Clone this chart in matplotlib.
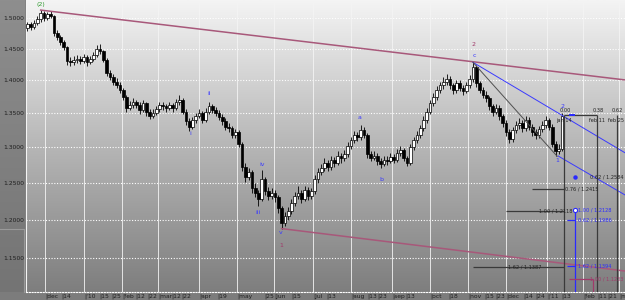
import numpy as np
import matplotlib
matplotlib.use("Agg")
import matplotlib.pyplot as plt
from matplotlib.colors import LinearSegmentedColormap
from matplotlib.ticker import NullLocator

# two-day candles, x = bar number
opens = [1.484, 1.490, 1.485, 1.492, 1.498, 1.508, 1.500, 1.506, 1.503, 1.475,
         1.468, 1.460, 1.452, 1.430, 1.428, 1.432, 1.434, 1.430, 1.436, 1.428,
         1.434, 1.440, 1.450, 1.446, 1.432, 1.412, 1.405, 1.398, 1.392, 1.385,
         1.375, 1.358, 1.362, 1.366, 1.362, 1.355, 1.365, 1.352, 1.346, 1.350,
         1.356, 1.362, 1.360, 1.358, 1.362, 1.358, 1.366, 1.370, 1.352, 1.338,
         1.330, 1.340, 1.345, 1.350, 1.340, 1.352, 1.360, 1.355, 1.350, 1.344,
         1.338, 1.330, 1.328, 1.318, 1.322, 1.305, 1.272, 1.258, 1.265, 1.242,
         1.236, 1.228, 1.255, 1.238, 1.232, 1.236, 1.230, 1.215, 1.196, 1.205,
         1.212, 1.222, 1.232, 1.236, 1.228, 1.240, 1.232, 1.238, 1.255, 1.265,
         1.270, 1.278, 1.272, 1.282, 1.278, 1.288, 1.284, 1.290, 1.302, 1.310,
         1.318, 1.315, 1.325, 1.318, 1.290, 1.285, 1.288, 1.280, 1.276, 1.282,
         1.280, 1.286, 1.282, 1.292, 1.296, 1.284, 1.278, 1.300, 1.310, 1.318,
         1.328, 1.340, 1.352, 1.365, 1.375, 1.385, 1.392, 1.398, 1.402, 1.392,
         1.385, 1.396, 1.388, 1.384, 1.392, 1.402, 1.420, 1.395, 1.385, 1.378,
         1.372, 1.360, 1.352, 1.358, 1.345, 1.335, 1.322, 1.312, 1.325, 1.332,
         1.335, 1.328, 1.340, 1.330, 1.322, 1.318, 1.326, 1.332, 1.340, 1.330,
         1.305, 1.295, 1.298]
highs = [1.494, 1.493, 1.497, 1.503, 1.513, 1.511, 1.510, 1.511, 1.505, 1.480,
         1.472, 1.463, 1.454, 1.436, 1.438, 1.440, 1.438, 1.441, 1.440, 1.438,
         1.445, 1.456, 1.457, 1.448, 1.435, 1.416, 1.410, 1.404, 1.398, 1.388,
         1.378, 1.368, 1.372, 1.369, 1.366, 1.370, 1.367, 1.356, 1.356, 1.361,
         1.367, 1.366, 1.364, 1.367, 1.365, 1.371, 1.377, 1.373, 1.356, 1.342,
         1.344, 1.350, 1.356, 1.353, 1.357, 1.367, 1.364, 1.359, 1.354, 1.348,
         1.342, 1.336, 1.331, 1.327, 1.325, 1.308, 1.278, 1.270, 1.268, 1.250,
         1.240, 1.268, 1.258, 1.244, 1.242, 1.240, 1.233, 1.218, 1.210, 1.217,
         1.227, 1.237, 1.245, 1.240, 1.246, 1.244, 1.243, 1.260, 1.270, 1.276,
         1.284, 1.282, 1.288, 1.286, 1.294, 1.292, 1.296, 1.307, 1.315, 1.323,
         1.322, 1.333, 1.330, 1.321, 1.295, 1.294, 1.292, 1.284, 1.288, 1.287,
         1.291, 1.290, 1.298, 1.302, 1.299, 1.288, 1.305, 1.315, 1.323, 1.333,
         1.346, 1.358, 1.370, 1.381, 1.391, 1.398, 1.405, 1.410, 1.407, 1.396,
         1.401, 1.400, 1.393, 1.397, 1.408, 1.428, 1.424, 1.399, 1.390, 1.383,
         1.376, 1.364, 1.364, 1.362, 1.349, 1.339, 1.326, 1.330, 1.338, 1.342,
         1.339, 1.346, 1.344, 1.334, 1.326, 1.331, 1.338, 1.346, 1.343, 1.334,
         1.309, 1.304, 1.350]
lows = [1.478, 1.480, 1.482, 1.488, 1.494, 1.495, 1.497, 1.499, 1.470, 1.464,
        1.456, 1.447, 1.424, 1.422, 1.424, 1.427, 1.425, 1.427, 1.423, 1.425,
        1.430, 1.436, 1.441, 1.428, 1.406, 1.400, 1.393, 1.388, 1.381, 1.370,
        1.352, 1.355, 1.357, 1.357, 1.349, 1.352, 1.346, 1.341, 1.343, 1.347,
        1.352, 1.354, 1.352, 1.355, 1.352, 1.355, 1.362, 1.348, 1.333, 1.323,
        1.327, 1.336, 1.342, 1.336, 1.337, 1.349, 1.350, 1.345, 1.339, 1.333,
        1.325, 1.322, 1.313, 1.313, 1.300, 1.266, 1.251, 1.254, 1.236, 1.230,
        1.218, 1.225, 1.233, 1.226, 1.228, 1.224, 1.209, 1.188, 1.192, 1.200,
        1.208, 1.218, 1.228, 1.222, 1.225, 1.226, 1.228, 1.234, 1.250, 1.260,
        1.266, 1.266, 1.268, 1.272, 1.274, 1.278, 1.280, 1.286, 1.298, 1.306,
        1.309, 1.311, 1.313, 1.285, 1.280, 1.281, 1.275, 1.270, 1.273, 1.275,
        1.277, 1.277, 1.279, 1.288, 1.280, 1.273, 1.275, 1.296, 1.306, 1.314,
        1.324, 1.336, 1.348, 1.360, 1.370, 1.380, 1.387, 1.393, 1.386, 1.379,
        1.381, 1.383, 1.378, 1.380, 1.388, 1.398, 1.390, 1.380, 1.372, 1.366,
        1.354, 1.346, 1.348, 1.339, 1.329, 1.316, 1.306, 1.308, 1.320, 1.327,
        1.322, 1.324, 1.325, 1.316, 1.312, 1.314, 1.322, 1.328, 1.325, 1.300,
        1.287, 1.290, 1.295]
closes = [1.490, 1.485, 1.492, 1.498, 1.508, 1.500, 1.506, 1.503, 1.475, 1.468,
          1.460, 1.452, 1.430, 1.428, 1.432, 1.434, 1.430, 1.436, 1.428, 1.434,
          1.440, 1.450, 1.446, 1.432, 1.412, 1.405, 1.398, 1.392, 1.385, 1.375,
          1.358, 1.362, 1.366, 1.362, 1.355, 1.365, 1.352, 1.346, 1.350, 1.356,
          1.362, 1.360, 1.358, 1.362, 1.358, 1.366, 1.370, 1.352, 1.338, 1.330,
          1.340, 1.345, 1.350, 1.340, 1.352, 1.360, 1.355, 1.350, 1.344, 1.338,
          1.330, 1.328, 1.318, 1.322, 1.305, 1.272, 1.258, 1.265, 1.242, 1.236,
          1.228, 1.255, 1.238, 1.232, 1.236, 1.230, 1.215, 1.196, 1.205, 1.212,
          1.222, 1.232, 1.236, 1.228, 1.240, 1.232, 1.238, 1.255, 1.265, 1.270,
          1.278, 1.272, 1.282, 1.278, 1.288, 1.284, 1.290, 1.302, 1.310, 1.318,
          1.315, 1.325, 1.318, 1.290, 1.285, 1.288, 1.280, 1.276, 1.282, 1.280,
          1.286, 1.282, 1.292, 1.296, 1.284, 1.278, 1.300, 1.310, 1.318, 1.328,
          1.340, 1.352, 1.365, 1.375, 1.385, 1.392, 1.398, 1.402, 1.392, 1.385,
          1.396, 1.388, 1.384, 1.392, 1.402, 1.420, 1.395, 1.385, 1.378, 1.372,
          1.360, 1.352, 1.358, 1.345, 1.335, 1.322, 1.312, 1.325, 1.332, 1.335,
          1.328, 1.340, 1.330, 1.322, 1.318, 1.326, 1.332, 1.340, 1.330, 1.305,
          1.295, 1.298, 1.345]

yticks = [1.15, 1.20, 1.25, 1.30, 1.35, 1.40, 1.45, 1.50]
xtick_pos = [5.3, 10.15, 17.1, 21.7, 25.3, 28.6, 32.6, 36.2, 39.5, 43.5, 46.5,
             52.0, 57.4, 63.5, 71.7, 74.7, 79.8, 86.5, 90.5, 98.0, 102.9, 105.9,
             110.5, 114.4, 122.0, 127.4, 133.5, 138.3, 141.7, 145.0, 150.2, 153.8,
             157.4, 161.7, 168.3, 172.6, 175.6, 179.2]
xtick_lab = ["dec", "14", "'10", "15", "25", "feb", "12", "22", "mar", "12", "22",
             "apr", "19", "may", "25", "jun", "15", "jul", "13", "aug", "13", "23",
             "sep", "13", "oct", "18", "nov", "15", "23", "dec", "14", "24",
             "'11", "13", "feb", "11", "21", "m"]
month_pos = [5.3, 17.1, 28.6, 39.5, 52.0, 63.5, 74.7, 86.5, 98.0, 110.5, 122.0,
             133.5, 145.0, 157.4, 168.3, 179.2]

# wave labels: (text, bar, price, colour)
BLUE = "#3a3aff"
MAROON = "#a03a6a"
waves = [("(2)", 4.1, 1.5216, "#2e9a2e"), ("i", 49.2, 1.3192, BLUE),
         ("ii", 55.0, 1.3789, BLUE), ("iii", 69.8, 1.2100, BLUE),
         ("iv", 71.1, 1.2747, BLUE), ("v", 76.8, 1.1835, BLUE),
         ("1", 76.8, 1.1666, MAROON), ("a", 100.5, 1.3428, BLUE),
         ("b", 107.1, 1.2537, BLUE), ("2", 135.3, 1.4558, MAROON),
         ("c", 135.3, 1.4382, BLUE), ("1", 160.5, 1.2817, BLUE),
         ("2", 162.0, 1.3600, BLUE)]

# trend lines: (bar0, price0, bar1, price1, colour, width)
lines = [(4.0, 1.513, 181.06, 1.4005, "#a8587a", 1.1),
         (77.0, 1.188, 181.06, 1.1335, "#a8587a", 1.1),
         (135.0, 1.428, 181.06, 1.292, BLUE, 0.7),
         (160.8, 1.2874, 181.06, 1.2331, BLUE, 0.7),
         (135.0, 1.428, 160.5, 1.287, "#505050", 0.7)]

fig = plt.figure(figsize=(6.25, 3.0), dpi=100)
fig.patch.set_facecolor("#7c7c7c")

# background panels
bg = fig.add_axes([0, 0, 1, 1])
bg.set_xlim(0, 625)
bg.set_ylim(300, 0)
bg.axis("off")
grad = np.linspace(0, 1, 256).reshape(-1, 1)
plot_cmap = LinearSegmentedColormap.from_list("p", ["#f4f4f4", "#b6b6b6", "#7e7e7e"])
left_cmap = LinearSegmentedColormap.from_list("l", ["#8e8e8e", "#747474"])
bg.imshow(grad, cmap=plot_cmap, extent=[26, 625, 292, 0], aspect="auto")
bg.imshow(grad, cmap=left_cmap, extent=[0, 25, 292, 0], aspect="auto")
bg.plot([0, 24], [229, 229], color="#9a9a9a", lw=0.8)
bg.plot([24, 24], [229, 292], color="#9a9a9a", lw=0.8)

ax = fig.add_axes([26 / 625, 8 / 300, 599 / 625, 292 / 300])
ax.set_facecolor("none")
ax.set_yscale("log")
ax.set_ylim(1.1075, 1.530)
ax.set_xlim(-0.45, 181.06)

for y in yticks:
    ax.axhline(y, color="white", lw=0.8, ls=(0, (1, 1.5)), zorder=1)
for m in month_pos:
    ax.axvline(m, color="#f4f4f4", lw=0.6, zorder=1)

# candles
x = np.arange(len(closes))
o = np.array(opens)
c = np.array(closes)
up = c >= o
ax.vlines(x, lows, highs, color="black", lw=0.6, zorder=3)
ax.bar(x[up], (c - o)[up], bottom=o[up], width=0.8, color="white",
       edgecolor="black", lw=0.5, zorder=4)
ax.bar(x[~up], (c - o)[~up], bottom=o[~up], width=0.8, color="black",
       edgecolor="black", lw=0.5, zorder=4)

for b0, p0, b1, p1, col, w in lines:
    ax.plot([b0, b1], [p0, p1], color=col, lw=w, zorder=5)

# fibonacci projection block on the right
ax.vlines([162.6, 172.6, 178.6], 1.1075, 1.347, color="#3a3a3a", lw=0.9, zorder=5)
ax.hlines(1.347, 162.6, 172.6, color="#3a3a3a", lw=0.9, zorder=5)
ax.hlines(1.347, 164.2, 166.0, color="#2a2aff", lw=1.4, zorder=6)
ax.vlines(165.9, 1.1075, 1.2128, color="#2a2aff", lw=0.9, zorder=5)
ax.hlines([1.2415, 1.2118, 1.1387], [153.0, 145.0, 135.0], [162.6, 162.6, 162.6],
          color="#3a3a3a", lw=0.9, zorder=5)
ax.hlines([1.1988, 1.1394], 163.5, 166.0, color="#2a2aff", lw=0.9, zorder=5)
ax.hlines(1.1233, 164.0, 171.5, color="#a03a6a", lw=0.9, zorder=5)
ax.vlines(171.5, 1.1075, 1.1233, color="#a03a6a", lw=0.9, zorder=5)
ax.plot(165.9, 1.2128, "o", ms=3, mfc="white", mec="#2a2aff", mew=0.8, zorder=6)
ax.plot(166.0, 1.2584, "o", ms=2.2, color="#2a2aff", zorder=6)

FS = 3.6
fib_dark = [("0.62 / 1.2584", 170.6, 1.2584), ("0.76 / 1.2415", 162.9, 1.2415),
            ("1.00 / 1.2118", 155.0, 1.2118), ("1.62 / 1.1387", 145.5, 1.1387)]
fib_blue = [("1.00 / 1.2128", 166.8, 1.2128), ("0.62 / 1.1986", 166.8, 1.1988),
            ("1.62 / 1.1394", 166.8, 1.1394)]
for t, b, p in fib_dark:
    ax.text(b, p, t, fontsize=FS, color="#222222", va="center", ha="left", zorder=7)
for t, b, p in fib_blue:
    ax.text(b, p, t, fontsize=FS, color="#2a2aff", va="center", ha="left", zorder=7)
ax.text(170.6, 1.1233, "1.00 / 1.1233", fontsize=FS, color="#a03a6a", va="center",
        ha="left", zorder=7)
for t, b in [("0.00", 161.2), ("0.38", 171.3), ("0.62", 176.9)]:
    ax.text(b, 1.3500, t, fontsize=FS, color="#222222", va="bottom", ha="left", zorder=7)
for t, b in [("jan 14", 160.3), ("feb 11", 170.3), ("feb 25", 175.9)]:
    ax.text(b, 1.3385, t, fontsize=FS, color="#222222", va="center", ha="left", zorder=7)

for t, b, p, col in waves:
    ax.text(b, p, t, fontsize=4.5, color=col, ha="center", va="center", zorder=7)

ax.yaxis.set_minor_locator(NullLocator())
ax.set_yticks(yticks)
ax.set_yticklabels([f"{v:.4f}" for v in yticks])
ax.set_xticks(xtick_pos)
ax.set_xticklabels(["|" + s for s in xtick_lab], ha="left")
ax.tick_params(axis="both", length=0, labelsize=4.3, colors="#1e1e1e")
ax.tick_params(axis="y", pad=1.5)
ax.tick_params(axis="x", pad=0.8)
for s in ["top", "right"]:
    ax.spines[s].set_visible(False)
ax.spines["left"].set_color("#f4f4f4")
ax.spines["left"].set_linewidth(0.8)
ax.spines["bottom"].set_color("white")
ax.spines["bottom"].set_linestyle((0, (1, 1.5)))
ax.spines["bottom"].set_linewidth(0.8)

fig.savefig("out.png", dpi=100, facecolor=fig.get_facecolor())
